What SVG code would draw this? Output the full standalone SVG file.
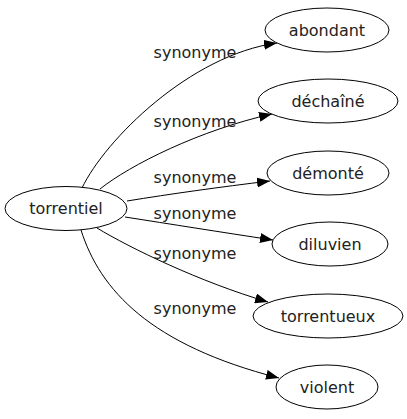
<svg xmlns="http://www.w3.org/2000/svg" width="407" height="419" viewBox="0 0 407 419">
<style>
  .node ellipse { fill: #ffffff; stroke: #000000; stroke-width: 1; }
  .node text { font-family: "DejaVu Sans", sans-serif; font-size: 16px; fill: #222222; text-anchor: middle; }
  .edges path { fill: none; stroke: #000000; stroke-width: 1; marker-end: url(#arrow); }
  .edges text { font-family: "DejaVu Sans", sans-serif; font-size: 16px; fill: #222222; text-anchor: middle; }
</style>
<defs>
  <marker id="arrow" markerUnits="userSpaceOnUse" markerWidth="14" markerHeight="10" refX="13" refY="5" orient="auto" viewBox="0 0 14 10">
    <path d="M0,0 L13,5 L0,10 z" fill="#000000"/>
  </marker>
</defs>
<rect width="407" height="419" fill="#ffffff"/>
<g class="edges" id="edges">
  <path d="M82,188 C105,140 190,55 277,43"/>
  <text x="195" y="58">synonyme</text>
  <path d="M100,189 C130,165 200,130 272,114"/>
  <text x="195" y="127">synonyme</text>
  <path d="M127,201 C170,194 220,187 270,181"/>
  <text x="195" y="183">synonyme</text>
  <path d="M125,217 C170,224 220,232 273,240"/>
  <text x="195" y="219">synonyme</text>
  <path d="M97,228 C130,248 200,282 268,302"/>
  <text x="195" y="259">synonyme</text>
  <path d="M81,230 C100,290 150,345 279,378"/>
  <text x="195" y="314">synonyme</text>
</g>
<g class="node" id="torrentiel">
  <ellipse cx="66" cy="208.5" rx="61" ry="22"/>
  <text x="66" y="214">torrentiel</text>
</g>
<g class="node" id="abondant">
  <ellipse cx="327" cy="30" rx="62" ry="22"/>
  <text x="327" y="35.5">abondant</text>
</g>
<g class="node" id="dechaine">
  <ellipse cx="328" cy="101" rx="70" ry="22"/>
  <text x="328" y="106.5">déchaîné</text>
</g>
<g class="node" id="demonte">
  <ellipse cx="328" cy="173" rx="61" ry="22"/>
  <text x="328" y="178.5">démonté</text>
</g>
<g class="node" id="diluvien">
  <ellipse cx="330" cy="244" rx="58" ry="22"/>
  <text x="330" y="249.5">diluvien</text>
</g>
<g class="node" id="torrentueux">
  <ellipse cx="328" cy="316" rx="75" ry="22"/>
  <text x="328" y="321.5">torrentueux</text>
</g>
<g class="node" id="violent">
  <ellipse cx="327" cy="387" rx="51" ry="22"/>
  <text x="327" y="392.5">violent</text>
</g>
</svg>
